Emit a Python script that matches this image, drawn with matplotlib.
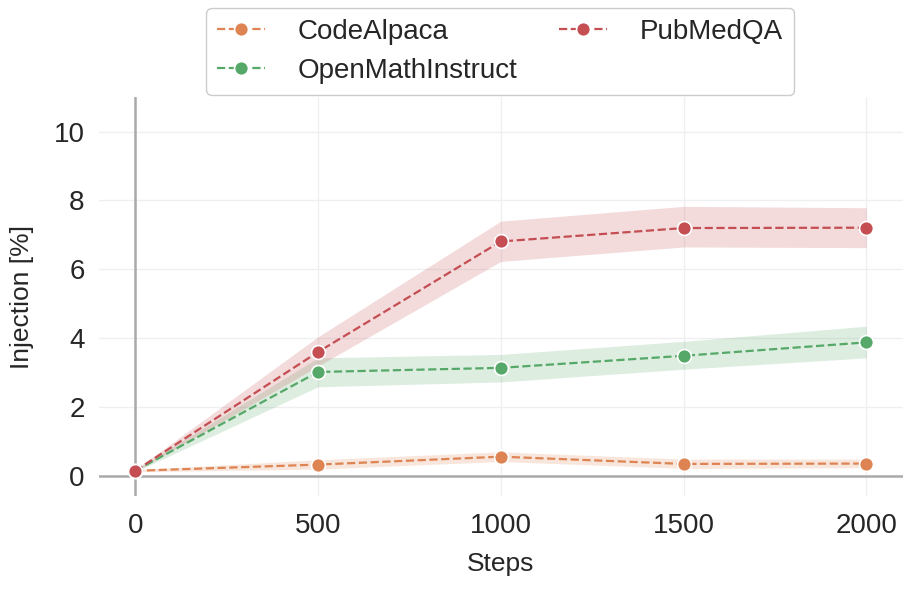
import matplotlib
matplotlib.use("Agg")
import matplotlib.pyplot as plt
import seaborn as sns

sns.set_theme(style="whitegrid")
plt.rcParams['font.family'] = ['Liberation Sans', 'DejaVu Sans']

steps = [0, 500, 1000, 1500, 2000]

code_mean = [0.15, 0.33, 0.56, 0.35, 0.36]
code_lo = [0.12, 0.20, 0.42, 0.22, 0.24]
code_hi = [0.18, 0.47, 0.70, 0.49, 0.49]

math_mean = [0.15, 3.02, 3.14, 3.49, 3.88]
math_lo = [0.12, 2.59, 2.73, 3.10, 3.43]
math_hi = [0.18, 3.43, 3.53, 3.91, 4.35]

pub_mean = [0.15, 3.60, 6.81, 7.20, 7.21]
pub_lo = [0.12, 3.19, 6.23, 6.65, 6.63]
pub_hi = [0.18, 4.04, 7.40, 7.83, 7.79]

names = ["CodeAlpaca", "OpenMathInstruct", "PubMedQA"]
means = [code_mean, math_mean, pub_mean]
lows = [code_lo, math_lo, pub_lo]
highs = [code_hi, math_hi, pub_hi]
pal = sns.color_palette("deep")
colors = [pal[1], pal[2], pal[3]]

fig = plt.figure(figsize=(9.13, 5.89), dpi=100)
ax = fig.add_axes([0.108, 0.158, 0.881, 0.677])

# zero lines play the role of the axes
ax.axhline(0, color="#aaaaaa", lw=1.8, zorder=1)
ax.axvline(0, color="#aaaaaa", lw=1.8, zorder=1)

for name, m, lo, hi, c in zip(names, means, lows, highs, colors):
    ax.fill_between(steps, lo, hi, color=c, alpha=0.2, linewidth=0, zorder=2)
    ax.plot(steps, m, "--o", color=c, label=name, lw=1.6, markersize=10,
            markeredgecolor="white", markeredgewidth=1.2, zorder=3)

ax.set_xlim(-100, 2100)
ax.set_ylim(-0.58, 11)
ax.set_xticks([0, 500, 1000, 1500, 2000])
ax.set_yticks([0, 2, 4, 6, 8, 10])
ax.tick_params(axis="x", labelsize=20, length=0, pad=12)
ax.tick_params(axis="y", labelsize=20, length=0, pad=10)
ax.grid(True, color="#efefef", lw=0.9)

for s in ax.spines.values():
    s.set_visible(False)

ax.set_xlabel("Steps", fontsize=19)
ax.set_ylabel("Injection [%]", fontsize=19)
ax.xaxis.set_label_coords(0.5, -0.14)
ax.yaxis.set_label_coords(-0.08, 0.5)

fig.legend(loc="upper center", bbox_to_anchor=(0.548, 1.01), ncol=2,
           fontsize=20, frameon=True, columnspacing=1.5, handlelength=1.7,
           handletextpad=1.2, labelspacing=0.45, borderpad=0.4,
           edgecolor="#cccccc", framealpha=1)

fig.savefig("out.png", dpi=100)
